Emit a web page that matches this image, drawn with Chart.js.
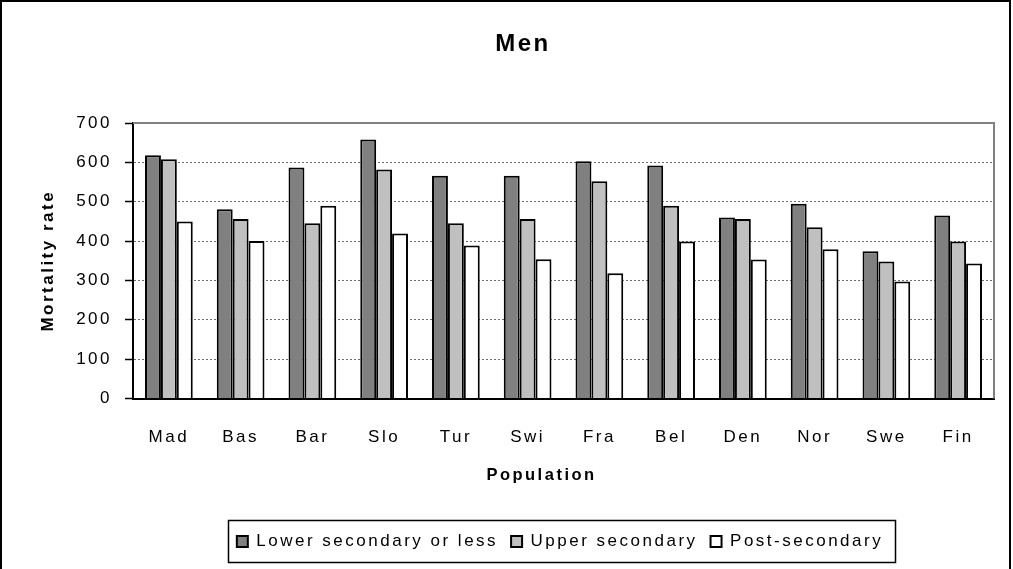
<!DOCTYPE html>
<html>
<head>
<meta charset="utf-8">
<script src="https://cdn.jsdelivr.net/npm/chart.js@4/dist/chart.umd.min.js"></script>
<style>
  html, body { margin: 0; padding: 0; background: #fff; }
  #wrap { width: 1013px; height: 569px; }
</style>
</head>
<body>
<div id="wrap"><canvas id="c" width="1013" height="569"></canvas></div>
<script>
const categories = ['Mad', 'Bas', 'Bar', 'Slo', 'Tur', 'Swi', 'Fra', 'Bel', 'Den', 'Nor', 'Swe', 'Fin'];
const lowerSecondary = [618, 481, 587, 658, 566, 566, 603, 592, 460, 495, 374, 465];
const upperSecondary = [608, 456, 445, 582, 445, 456, 552, 490, 456, 435, 348, 399];
const postSecondary  = [450, 400, 490, 419, 389, 354, 318, 399, 353, 379, 297, 343];
const yTicks = [0, 100, 200, 300, 400, 500, 600, 700];
const seriesNames = ['Lower secondary or less', 'Upper secondary', 'Post-secondary'];

const FONT = "'Liberation Sans', Arial, sans-serif";
const SPACING = '2.5px';

const spacingPlugin = {
  id: 'spacing',
  beforeUpdate(chart) { chart.ctx.letterSpacing = SPACING; },
  beforeLayout(chart) { chart.ctx.letterSpacing = SPACING; },
  beforeDraw(chart) { chart.ctx.letterSpacing = SPACING; }
};

const LEGEND_SHIFT = 57;
const TITLE_SHIFT = 20;
const XTITLE_SHIFT = -22;
const decorPlugin = {
  id: 'decor',
  afterLayout(chart) {
    const lg = chart.legend;
    if (lg) {
      lg.left += LEGEND_SHIFT;
      lg.right += LEGEND_SHIFT;
      if (typeof lg.adjustHitBoxes === 'function') lg.adjustHitBoxes();
    }
    const tb = chart.titleBlock;
    if (tb) { tb.left += TITLE_SHIFT; tb.right += TITLE_SHIFT; }
    const xs = chart.scales.x;
    if (xs && !xs._shiftPatched) {
      const orig = xs.drawTitle;
      xs.drawTitle = function () {
        this.ctx.save();
        this.ctx.translate(XTITLE_SHIFT, 0);
        orig.apply(this, arguments);
        this.ctx.restore();
      };
      xs._shiftPatched = true;
    }
  },
  beforeDatasetsDraw(chart) {
    const {ctx, chartArea: a} = chart;
    ctx.save();
    ctx.strokeStyle = '#808080';
    ctx.lineWidth = 2;
    ctx.beginPath();
    ctx.moveTo(a.left, a.top);
    ctx.lineTo(a.right, a.top);
    ctx.lineTo(a.right, a.bottom);
    ctx.stroke();
    ctx.restore();
  },
  afterDraw(chart) {
    const ctx = chart.ctx;
    ctx.save();
    ctx.strokeStyle = '#000';
    ctx.lineWidth = 2;
    ctx.strokeRect(1, 1, 1009, 600);
    const lg = chart.legend;
    if (lg && lg.lineWidths && lg.lineWidths.length) {
      const pad = lg.options.labels.padding;
      const rowW = lg.lineWidths[0];
      const startX = (lg.left + pad + lg.right - rowW) / 2;
      const itemH = lg.options.labels.font.size;
      const top = lg.top + pad;
      ctx.lineWidth = 1.5;
      ctx.strokeRect(Math.round(startX) - 8.5, Math.round(top) - 12.5, Math.round(rowW - pad) + 21, itemH + 25);
    }
    ctx.restore();
  }
};

new Chart(document.getElementById('c'), {
  type: 'bar',
  data: {
    labels: categories,
    datasets: [
      { label: seriesNames[0], data: lowerSecondary, backgroundColor: '#808080', borderColor: '#000', borderWidth: 2 },
      { label: seriesNames[1], data: upperSecondary, backgroundColor: '#C0C0C0', borderColor: '#000', borderWidth: 2 },
      { label: seriesNames[2], data: postSecondary,  backgroundColor: '#FFFFFF', borderColor: '#000', borderWidth: 2 }
    ]
  },
  options: {
    responsive: false,
    animation: false,
    devicePixelRatio: 1,
    layout: { padding: { left: 12, right: 19, top: 0, bottom: 9 } },
    datasets: { bar: { barPercentage: 1.0, categoryPercentage: 0.665 } },
    plugins: {
      title: {
        display: true, text: 'Men', color: '#000',
        font: { family: FONT, size: 24, weight: 'bold' },
        padding: { top: 30, bottom: 64.2 }
      },
      legend: {
        display: true, position: 'bottom',
        labels: {
          color: '#000', boxWidth: 11, boxHeight: 11, padding: 13,
          font: { family: FONT, size: 17 }
        }
      },
      tooltip: { enabled: false }
    },
    scales: {
      x: {
        grid: { display: true, drawOnChartArea: false, drawTicks: false },
        border: { display: true, color: '#000', width: 2 },
        ticks: { color: '#000', padding: 29, font: { family: FONT, size: 17 }, maxRotation: 0 },
        title: {
          display: true, text: 'Population', color: '#000',
          font: { family: FONT, size: 16.5, weight: 'bold' },
          padding: { top: 0, bottom: 35 }
        },
        afterFit(s) { s.height = 121.5; }
      },
      y: {
        min: 0, max: 700,
        afterBuildTicks(s) { s.ticks = yTicks.map(v => ({ value: v })); },
        grid: { color: '#6e6e6e', lineWidth: 1, tickColor: '#000', tickLength: 8, tickWidth: 1.5, tickBorderDash: [] },
        border: { display: true, color: '#000', width: 2, dash: [2, 2] },
        ticks: { color: '#000', padding: 13, font: { family: FONT, size: 17 } },
        title: {
          display: true, text: 'Mortality rate', color: '#000',
          font: { family: FONT, size: 17, weight: 'bold' },
          padding: { top: 26, bottom: 0 }
        },
        afterFit(s) { s.width = 121; }
      }
    }
  },
  plugins: [spacingPlugin, decorPlugin]
});
</script>
</body>
</html>
